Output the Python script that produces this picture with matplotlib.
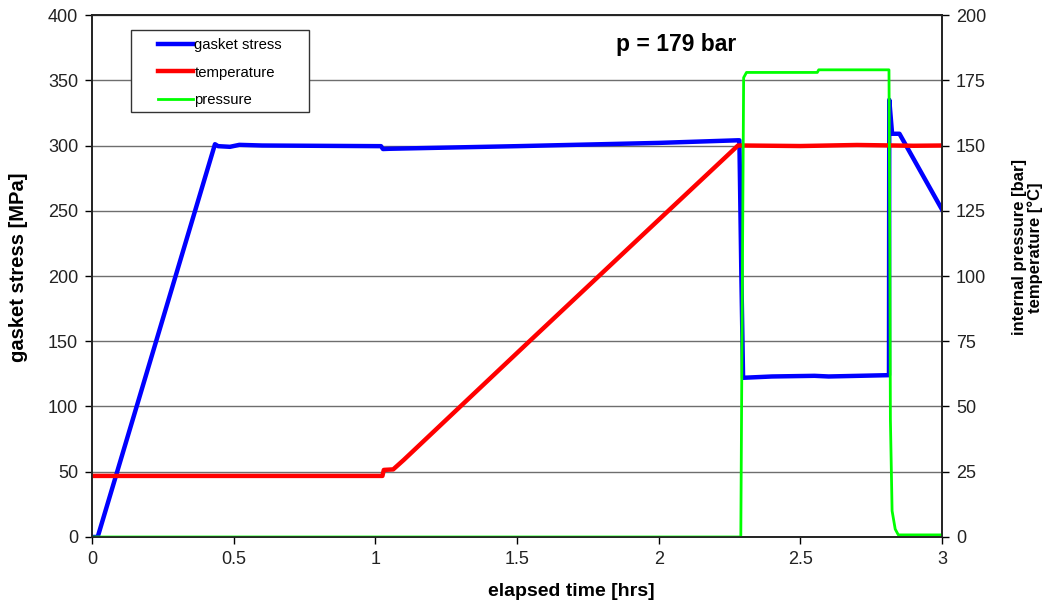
import matplotlib
matplotlib.use('Agg')
import matplotlib.pyplot as plt
from matplotlib.patches import Rectangle

plt.rcParams['font.family'] = ['Liberation Sans', 'DejaVu Sans']

# gasket stress [MPa] vs elapsed time [hrs]
stress_t = [0.0, 0.02, 0.434, 0.445, 0.487, 0.52, 0.60, 1.02, 1.027, 1.05, 1.5, 2.0, 2.28,
            2.285, 2.288, 2.292, 2.298, 2.40, 2.55, 2.60, 2.81, 2.813, 2.814, 2.824, 2.85, 3.0]
stress = [0, 0, 301, 299.5, 299, 300.5, 300, 299.5, 297.3, 297.5, 299.5, 302, 304,
          304, 260, 200, 122, 123, 123.5, 123, 124, 124, 335, 309, 309, 251]

# temperature [°C]
temp_t = [0.0, 1.025, 1.03, 1.063, 1.1, 1.3, 1.546, 2.0, 2.28, 2.30, 2.5, 2.7, 2.9, 3.0]
temp = [23.4, 23.4, 25.7, 25.9, 29.5, 50, 75.2, 121.5, 150, 150, 149.8, 150.2, 149.9, 150]

# internal pressure [bar]
press_t = [0.0, 2.290, 2.295, 2.300, 2.31, 2.56, 2.565, 2.813, 2.816, 2.818, 2.824, 2.835, 2.846, 3.0]
press = [0, 0, 90, 176, 178, 178, 179, 179, 110, 45, 10, 3, 0.8, 0.8]

fig = plt.figure(figsize=(10.54, 6.08), dpi=100)
ax = fig.add_axes([0.0873, 0.1168, 0.8064, 0.8585])
ax2 = ax.twinx()

l1, = ax.plot(stress_t, stress, color='#0000ff', lw=3.2, label='gasket stress')
l2, = ax2.plot(temp_t, temp, color='#ff0000', lw=3.2, label='temperature')
l3, = ax2.plot(press_t, press, color='#00ff00', lw=2.0, label='pressure')

ax.set_xlim(0, 3)
ax.set_ylim(0, 400)
ax2.set_ylim(0, 200)
ax.set_yticks(range(0, 401, 50))
ax2.set_yticks(range(0, 201, 25))
ax.set_xticks([0, 0.5, 1, 1.5, 2, 2.5, 3])
ax.set_xticklabels(['0', '0.5', '1', '1.5', '2', '2.5', '3'])

ax.grid(axis='y', color='#6e6e6e', lw=1.0)
ax.set_axisbelow(True)
for a in (ax, ax2):
    a.tick_params(direction='out', length=5, width=1, labelsize=13, pad=5,
                  labelcolor='#222222')
    for s in a.spines.values():
        s.set_linewidth(1.2)
        s.set_color('#222222')

ax.set_xlabel('elapsed time [hrs]', fontsize=14, fontweight='bold')
ax.xaxis.set_label_coords(0.5635, -0.088)
ax.set_ylabel('gasket stress [MPa]', fontsize=14.5, fontweight='bold')
ax.yaxis.set_label_coords(-0.075, 0.516)
ax2.set_ylabel('internal pressure [bar]\ntemperature [°C]', fontsize=12, fontweight='bold',
               linespacing=1.0)
ax2.yaxis.set_label_coords(1.0824, 0.555)

ax2.text(0.687, 0.943, 'p = 179 bar', transform=ax2.transAxes, fontsize=16.5,
         fontweight='bold', ha='center', va='center')

# legend frame drawn separately so the box can be wider than its entries
ax2.add_patch(Rectangle((0.0459, 0.8142), 0.2094, 0.1571, transform=ax2.transAxes,
                        facecolor='white', edgecolor='#333333', lw=1.0, zorder=9))
leg = ax2.legend(handles=[l1, l2, l3], loc='upper left', bbox_to_anchor=(0.0776, 0.956),
                 frameon=False, fontsize=10.7, handlelength=2.35, handletextpad=0.1,
                 borderaxespad=0, borderpad=0, labelspacing=0.92)
leg.set_zorder(10)

fig.savefig('out.png', dpi=100)
